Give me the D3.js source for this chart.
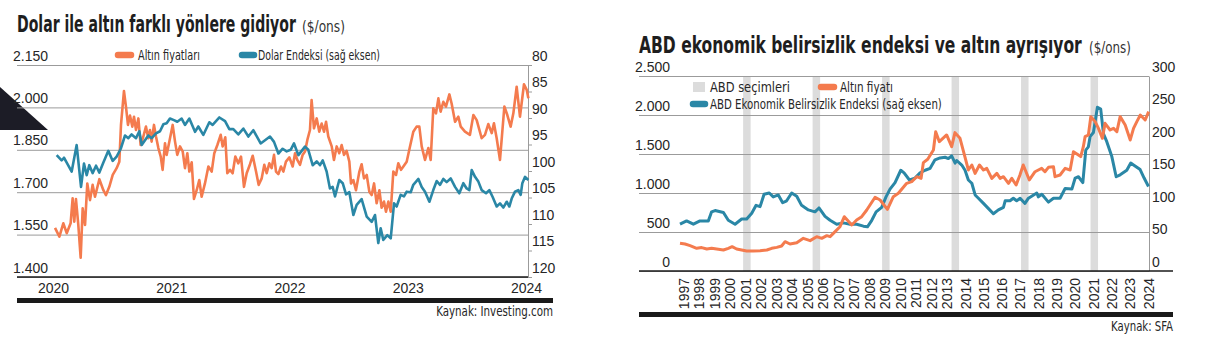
<!DOCTYPE html>
<html>
<head>
<meta charset="utf-8">
<script src="https://cdn.jsdelivr.net/npm/d3@7"></script>
<style>
  body { margin: 0; background: #fff; }
  svg { display: block; font-family: "Liberation Sans Narrow", "DejaVu Sans Condensed", "Liberation Sans", sans-serif; }
</style>
</head>
<body>
<svg id="chart" width="1207" height="347"></svg>
<script>
// ---------- Left panel: gold price vs. dollar index (weekly) ----------
const leftYears = [2020, 2021, 2022, 2023, 2024];
const goldTicks = [1400, 1550, 1700, 1850, 2000, 2150];
const dxyTicks = [80, 85, 90, 95, 100, 105, 110, 115, 120];

// [decimal year, $/oz]
const goldWeekly = [
  [2020.017,1574],[2020.054,1543],[2020.087,1590],[2020.116,1555],[2020.149,1590],[2020.166,1678],[2020.180,1596],[2020.194,1676],
  [2020.214,1584],[2020.234,1468],[2020.251,1643],[2020.271,1584],[2020.290,1731],[2020.313,1672],[2020.335,1726],[2020.355,1684],
  [2020.392,1746],[2020.426,1707],[2020.448,1690],[2020.476,1719],[2020.505,1761],[2020.538,1785],[2020.561,1808],[2020.575,1938],
  [2020.600,2058],[2020.617,2003],[2020.634,1938],[2020.651,1971],[2020.671,1932],[2020.685,1967],[2020.702,1920],[2020.722,1961],
  [2020.741,1867],[2020.764,1897],[2020.786,1932],[2020.806,1891],[2020.820,1920],[2020.834,1879],[2020.854,1938],[2020.871,1897],
  [2020.891,1856],[2020.911,1826],[2020.927,1779],[2020.947,1873],[2020.961,1832],[2020.984,1879],
  [2021.012,1938],[2021.032,1879],[2021.051,1832],[2021.074,1862],[2021.097,1844],[2021.116,1785],[2021.136,1838],[2021.153,1773],
  [2021.173,1806],[2021.192,1676],[2021.215,1707],[2021.237,1743],[2021.257,1684],[2021.285,1731],[2021.314,1791],[2021.342,1773],
  [2021.364,1838],[2021.390,1867],[2021.418,1903],[2021.435,1862],[2021.457,1894],[2021.474,1767],[2021.497,1779],[2021.519,1767],
  [2021.542,1826],[2021.567,1802],[2021.590,1826],[2021.615,1719],[2021.638,1767],[2021.666,1799],[2021.689,1829],[2021.717,1773],
  [2021.739,1726],[2021.765,1749],[2021.787,1797],[2021.807,1767],[2021.829,1802],[2021.849,1785],[2021.869,1832],[2021.886,1773],
  [2021.906,1764],[2021.928,1791],[2021.948,1773],[2021.970,1808],[2021.999,1823],
  [2022.027,1791],[2022.047,1838],[2022.066,1814],[2022.089,1797],[2022.111,1832],[2022.131,1844],[2022.151,1885],[2022.173,1920],
  [2022.187,2026],[2022.207,1926],[2022.230,1961],[2022.252,1914],[2022.272,1943],[2022.292,1914],[2022.309,1949],[2022.328,1897],
  [2022.357,1862],[2022.376,1814],[2022.399,1862],[2022.421,1838],[2022.441,1867],[2022.461,1832],[2022.483,1846],[2022.506,1808],
  [2022.520,1731],[2022.540,1743],[2022.562,1707],[2022.591,1773],[2022.610,1799],[2022.630,1749],[2022.653,1761],[2022.675,1702],
  [2022.695,1690],[2022.715,1731],[2022.737,1661],[2022.760,1707],[2022.779,1645],[2022.799,1667],[2022.816,1631],[2022.836,1667],
  [2022.856,1631],[2022.878,1773],[2022.901,1761],[2022.920,1802],[2022.943,1779],[2022.963,1791],[2022.991,1808],
  [2023.019,1862],[2023.047,1914],[2023.075,1932],[2023.098,1932],[2023.118,1862],[2023.146,1814],[2023.174,1856],[2023.194,1814],
  [2023.216,1997],[2023.239,1979],[2023.259,2032],[2023.278,1985],[2023.301,2020],[2023.323,2003],[2023.352,2046],[2023.371,2014],
  [2023.400,1949],[2023.428,1967],[2023.448,1932],[2023.484,1914],[2023.526,1903],[2023.555,1973],[2023.583,1955],[2023.625,1891],
  [2023.653,1903],[2023.681,1941],[2023.710,1909],[2023.729,1944],[2023.752,1891],[2023.780,1814],[2023.817,2003],[2023.842,1973],
  [2023.870,1932],[2023.893,1979],[2023.921,2073],[2023.949,1967],[2023.983,2082],[2024.006,2062],[2024.020,2032]
];

// [decimal year, index level]
const dxyWeekly = [
  [2020.031,97.0],[2020.073,98.0],[2020.093,97.5],[2020.116,98.4],[2020.158,100.1],[2020.200,95.1],[2020.237,103.0],[2020.262,98.6],
  [2020.285,100.8],[2020.307,98.9],[2020.335,100.4],[2020.364,99.0],[2020.392,100.3],[2020.426,98.4],[2020.468,96.2],[2020.505,98.1],
  [2020.538,97.3],[2020.573,95.8],[2020.609,93.3],[2020.637,93.8],[2020.665,93.1],[2020.702,93.8],[2020.730,92.5],[2020.750,95.1],
  [2020.778,94.2],[2020.806,93.3],[2020.834,93.8],[2020.871,92.9],[2020.905,92.5],[2020.933,91.2],[2020.961,91.0],[2020.989,90.1],
  [2021.023,90.4],[2021.051,90.7],[2021.088,90.1],[2021.116,91.3],[2021.153,90.1],[2021.201,92.6],[2021.229,91.6],[2021.271,93.2],
  [2021.322,90.8],[2021.350,91.3],[2021.407,89.9],[2021.455,90.6],[2021.491,92.1],[2021.525,92.1],[2021.567,93.1],[2021.610,92.0],
  [2021.652,93.5],[2021.694,92.3],[2021.756,94.8],[2021.793,94.2],[2021.835,93.5],[2021.869,94.5],[2021.906,96.7],[2021.942,95.8],
  [2021.976,96.3],[2022.010,96.0],[2022.038,94.8],
  [2022.075,97.0],[2022.131,95.4],[2022.159,96.0],[2022.196,98.9],[2022.230,98.2],[2022.258,98.9],[2022.281,98.0],[2022.314,100.1],
  [2022.342,103.3],[2022.365,103.0],[2022.385,104.8],[2022.421,101.7],[2022.450,102.3],[2022.478,104.4],[2022.506,104.0],[2022.540,108.3],
  [2022.568,106.4],[2022.610,105.3],[2022.653,108.6],[2022.695,109.6],[2022.723,108.3],[2022.751,113.6],[2022.771,110.8],[2022.793,113.0],
  [2022.827,112.1],[2022.856,112.7],[2022.884,106.1],[2022.906,106.7],[2022.940,104.5],[2022.968,104.8],[2022.991,103.9],[2023.025,104.0],
  [2023.047,102.6],[2023.090,101.5],[2023.118,103.0],[2023.146,103.9],[2023.183,105.8],[2023.216,103.6],[2023.245,101.9],[2023.273,102.6],
  [2023.301,101.5],[2023.329,102.1],[2023.363,101.4],[2023.400,103.0],[2023.436,104.2],[2023.470,102.3],[2023.498,103.3],[2023.521,103.6],
  [2023.541,99.8],[2023.569,101.1],[2023.597,102.0],[2023.625,103.6],[2023.662,104.2],[2023.690,103.6],[2023.718,104.9],[2023.752,106.7],
  [2023.780,106.1],[2023.808,106.9],[2023.837,105.8],[2023.859,106.7],[2023.879,105.2],[2023.907,103.9],[2023.935,103.6],[2023.955,104.5],
  [2023.969,102.3],[2023.992,101.1],[2024.020,101.7]
];

// ---------- Right panel: US economic policy uncertainty vs. gold ----------
const goldTicksR = [0, 500, 1000, 1500, 2000, 2500];
const epuTicks = [0, 50, 100, 150, 200, 250, 300];
const electionDates = [2000.85, 2004.85, 2008.85, 2012.85, 2016.85, 2020.85];
const yearLabels = ["1997","1998","1999","2000","2001","2002","2003","2004","2005","2006","2007","2007","2008","2009",
  "2010","2011","2012","2013","2014","2015","2016","2017","2018","2019","2020","2021","2022","2023","2024"];
const yearLabelDates = [1997.19,1998.08,1998.97,1999.87,2000.76,2001.65,2002.54,2003.44,2004.33,2005.22,2006.11,2007.01,2007.90,2008.79,
  2009.68,2010.58,2011.47,2012.36,2013.41,2014.47,2015.52,2016.57,2017.63,2018.68,2019.73,2020.79,2021.84,2022.90,2023.95];

// [decimal year, $/oz]
const goldLong = [
  [1997.00,355],[1997.29,346],[1997.58,325],[1997.96,291],[1998.25,300],[1998.54,282],[1998.82,291],[1999.11,282],[1999.50,269],
  [1999.78,291],[2000.00,312],[2000.26,282],[2000.55,269],[2000.84,256],[2001.22,256],[2001.61,261],[2002.00,269],[2002.28,291],
  [2002.57,303],[2002.85,320],[2003.05,376],[2003.33,346],[2003.72,363],[2004.10,419],[2004.49,389],[2004.87,440],[2005.16,419],
  [2005.45,453],[2005.64,440],[2005.93,504],[2006.21,568],[2006.46,696],[2006.89,590],[2007.17,654],[2007.46,696],[2007.75,782],
  [2008.23,945],[2008.52,910],[2008.94,791],[2009.28,953],[2009.57,996],[2010.05,1124],[2010.34,1145],[2010.63,1209],[2010.88,1188],
  [2011.01,1389],[2011.26,1432],[2011.59,1551],[2011.72,1786],[2011.93,1658],[2012.35,1744],[2012.64,1594],[2012.83,1774],[2013.12,1701],
  [2013.35,1509],[2013.60,1295],[2013.80,1359],[2013.99,1252],[2014.24,1359],[2014.47,1295],[2014.66,1316],[2014.95,1188],[2015.24,1252],
  [2015.43,1188],[2015.62,1209],[2015.91,1124],[2016.10,1188],[2016.35,1102],[2016.57,1231],[2016.76,1359],[2017.11,1167],[2017.44,1273],
  [2017.63,1295],[2017.82,1316],[2018.01,1273],[2018.21,1329],[2018.50,1337],[2018.59,1209],[2018.88,1231],[2019.17,1316],[2019.46,1295],
  [2019.65,1530],[2019.94,1487],[2020.07,1466],[2020.22,1594],[2020.32,1722],[2020.51,1744],[2020.65,1979],[2020.90,1915],[2021.09,1829],
  [2021.32,1701],[2021.47,1893],[2021.76,1808],[2021.96,1829],[2022.15,1786],[2022.34,1979],[2022.63,1872],[2022.92,1680],[2023.11,1829],
  [2023.30,1915],[2023.50,2000],[2023.78,1936],[2023.98,2043]
];

// [decimal year, index level]
const epuLong = [
  [1997.00,72],[1997.38,77],[1997.77,72],[1998.15,77],[1998.63,77],[1998.82,91],[1999.02,93],[1999.50,90],[1999.78,78],[2000.17,72],
  [2000.55,80],[2000.84,80],[2001.13,89],[2001.38,101],[2001.61,99],[2001.84,118],[2002.14,120],[2002.37,114],[2002.66,117],[2002.91,105],
  [2003.14,108],[2003.43,120],[2003.72,115],[2004.00,101],[2004.39,94],[2004.77,91],[2005.00,97],[2005.35,84],[2005.64,78],[2006.02,72],
  [2006.40,74],[2006.79,72],[2007.17,72],[2007.56,69],[2007.79,68],[2008.04,78],[2008.29,91],[2008.61,98],[2008.86,114],[2009.09,126],
  [2009.38,136],[2009.71,155],[2009.90,151],[2010.21,140],[2010.53,143],[2010.82,151],[2011.11,155],[2011.40,158],[2011.68,171],[2011.97,174],
  [2012.26,175],[2012.45,173],[2012.64,177],[2012.84,166],[2012.93,170],[2013.22,163],[2013.41,155],[2013.60,140],[2013.80,135],[2013.99,117],
  [2014.18,112],[2014.47,104],[2014.76,96],[2015.04,88],[2015.33,94],[2015.62,98],[2015.72,108],[2016.00,108],[2016.19,112],[2016.38,108],
  [2016.58,112],[2016.86,104],[2017.06,112],[2017.54,120],[2017.63,114],[2017.83,118],[2018.21,106],[2018.50,112],[2018.88,112],[2019.17,127],
  [2019.56,126],[2019.75,143],[2019.94,145],[2020.19,136],[2020.36,186],[2020.51,191],[2020.61,207],[2020.80,213],[2021.03,252],[2021.22,249],
  [2021.38,211],[2021.57,199],[2021.86,176],[2022.11,145],[2022.34,148],[2022.72,155],[2022.95,166],[2023.11,163],[2023.49,156],[2023.72,143],
  [2023.97,130]
];

// ---------- styling ----------
const INK = "#262626";
const GRID = "#9b9b9b";
const ORANGE = "#f47b4e";
const BLUE = "#2a87a6";
const BAND = "#dcdcdc";
const num = d3.formatLocale({ decimal: ",", thousands: ".", grouping: [3], currency: ["", ""] }).format(",");

const svg = d3.select("#chart");

// Places a text and squeezes it horizontally to the given width.
function fitText(g, x, y, str, opts) {
  const t = g.append("text").text(str)
    .attr("fill", opts.fill || INK)
    .attr("font-size", opts.size)
    .attr("font-weight", opts.weight || 400)
    .attr("text-anchor", opts.anchor || "start");
  let sx = 1;
  if (opts.width) {
    const natural = t.node().getComputedTextLength();
    if (natural > 0) sx = opts.width / natural;
  }
  t.attr("transform", `translate(${x},${y}) scale(${sx.toFixed(4)},1)`);
  return t;
}

// ================= LEFT PANEL =================
const L = { left: 17, right: 528, top: 65, bottom: 277, ruleEnd: 553 };
const xL = d3.scaleLinear().domain([2020, 2024]).range([53, 526]);
const yGold = d3.scaleLinear().domain([1400, 2150]).range([L.bottom, L.top]);
const yDxy = d3.scaleLinear().domain([80, 120]).range([L.top, L.bottom]);

const left = svg.append("g");

// corner wedge
left.append("path").attr("d", "M0,87 L48,130 L0,130 Z").attr("fill", "#1c1c26");

fitText(left, 17, 32, "Dolar ile altın farklı yönlere gidiyor", { size: 23, weight: 700, width: 279, fill: "#1e1e1e" });
fitText(left, 302, 32, "($/ons)", { size: 15, width: 43, fill: "#333" });

// gold axis + horizontal grid
left.append("g").attr("transform", `translate(${L.right},0)`)
  .call(d3.axisLeft(yGold).tickValues(goldTicks).tickSize(L.right - L.left).tickFormat(num))
  .call(g => {
    g.select(".domain").remove();
    g.selectAll(".tick line").attr("stroke", GRID).attr("stroke-width", 1);
    g.selectAll(".tick text").attr("x", -(L.right - 48)).attr("y", -5).attr("dy", null)
      .attr("text-anchor", "end").attr("fill", INK).attr("font-size", 14).attr("font-family", null);
  });

// dollar index axis (right, inverted)
left.append("g").attr("transform", `translate(${L.right},0)`)
  .call(d3.axisRight(yDxy).tickValues(dxyTicks).tickSize(4).tickSizeOuter(0))
  .call(g => {
    g.select(".domain").attr("stroke", GRID);
    g.selectAll(".tick line").attr("stroke", GRID);
    g.selectAll(".tick text").attr("x", 4).attr("y", -5).attr("dy", null)
      .attr("fill", INK).attr("font-size", 14).attr("font-family", null);
  });

// year axis
left.append("g").attr("transform", `translate(0,${L.bottom})`)
  .call(d3.axisBottom(xL).tickValues(leftYears).tickFormat(d3.format("d")).tickSize(0).tickPadding(6))
  .call(g => {
    g.select(".domain").remove();
    g.selectAll(".tick text").attr("fill", INK).attr("font-size", 14).attr("font-family", null);
  });

left.append("line").attr("x1", L.left).attr("x2", L.right).attr("y1", L.bottom).attr("y2", L.bottom)
  .attr("stroke", "#1a1a1a").attr("stroke-width", 1.5);

const lineGold = d3.line().x(d => xL(d[0])).y(d => yGold(d[1]));
const lineDxy = d3.line().x(d => xL(d[0])).y(d => yDxy(d[1]));

left.append("path").datum(goldWeekly).attr("d", lineGold)
  .attr("fill", "none").attr("stroke", ORANGE).attr("stroke-width", 2.6).attr("stroke-linejoin", "round");
left.append("path").datum(dxyWeekly).attr("d", lineDxy)
  .attr("fill", "none").attr("stroke", BLUE).attr("stroke-width", 2.6).attr("stroke-linejoin", "round");

// legend
const legL = left.append("g");
legL.append("line").attr("x1", 118).attr("x2", 131).attr("y1", 55).attr("y2", 55)
  .attr("stroke", ORANGE).attr("stroke-width", 6.5).attr("stroke-linecap", "round");
fitText(legL, 138, 60, "Altın fiyatları", { size: 14, width: 62 });
legL.append("line").attr("x1", 242).attr("x2", 254).attr("y1", 55).attr("y2", 55)
  .attr("stroke", BLUE).attr("stroke-width", 6.5).attr("stroke-linecap", "round");
fitText(legL, 258, 60, "Dolar Endeksi (sağ eksen)", { size: 14, width: 122 });

left.append("rect").attr("x", L.left).attr("y", 298).attr("width", L.ruleEnd - L.left).attr("height", 5).attr("fill", "#1a1a1a");
fitText(left, L.ruleEnd, 316, "Kaynak: Investing.com", { size: 14, width: 117, anchor: "end" });

// ================= RIGHT PANEL =================
const R = { left: 639, right: 1149, top: 76, bottom: 271, ruleEnd: 1173 };
const xR = d3.scaleLinear().domain([1997, 2024]).range([680, 1149]);
const yGoldR = d3.scaleLinear().domain([0, 2500]).range([R.bottom, R.top]);
const yEpu = d3.scaleLinear().domain([0, 300]).range([R.bottom, R.top]);
const bandWidth = 7.5;

const right = svg.append("g");

fitText(right, 639, 53, "ABD ekonomik belirsizlik endeksi ve altın ayrışıyor", { size: 23, weight: 700, width: 443, fill: "#1e1e1e" });
fitText(right, 1089, 53, "($/ons)", { size: 15, width: 42, fill: "#333" });

// election bands
right.append("g").selectAll("rect").data(electionDates).join("rect")
  .attr("x", d => xR(d) - bandWidth / 2).attr("width", bandWidth)
  .attr("y", R.top).attr("height", R.bottom - R.top).attr("fill", BAND);

// gold axis + grid
right.append("g").attr("transform", `translate(${R.right},0)`)
  .call(d3.axisLeft(yGoldR).tickValues(goldTicksR).tickSize(R.right - R.left).tickFormat(num))
  .call(g => {
    g.select(".domain").remove();
    g.selectAll(".tick line").attr("stroke", GRID).attr("stroke-width", 1);
    g.selectAll(".tick text").attr("x", -(R.right - 670)).attr("y", -5).attr("dy", null)
      .attr("text-anchor", "end").attr("fill", INK).attr("font-size", 14).attr("font-family", null);
  });

// uncertainty index axis
right.append("g").attr("transform", `translate(${R.right},0)`)
  .call(d3.axisRight(yEpu).tickValues(epuTicks).tickSize(0).tickSizeOuter(0))
  .call(g => {
    g.select(".domain").attr("stroke", GRID);
    g.selectAll(".tick text").attr("x", 3).attr("y", -5).attr("dy", null)
      .attr("fill", INK).attr("font-size", 14).attr("font-family", null);
  });

// year axis with rotated labels
right.append("g").attr("transform", `translate(0,${R.bottom})`)
  .call(d3.axisBottom(xR).tickValues(yearLabelDates).tickFormat((d, i) => yearLabels[i]).tickSize(0))
  .call(g => {
    g.select(".domain").remove();
    g.selectAll(".tick text").attr("transform", "rotate(-90)").attr("text-anchor", "end")
      .attr("x", -7).attr("y", 0).attr("dy", "0.36em")
      .attr("fill", INK).attr("font-size", 14).attr("font-family", null);
  });

right.append("line").attr("x1", R.left).attr("x2", R.ruleEnd).attr("y1", R.bottom).attr("y2", R.bottom)
  .attr("stroke", "#1a1a1a").attr("stroke-width", 1.5);

const lineGoldR = d3.line().x(d => xR(d[0])).y(d => yGoldR(d[1]));
const lineEpu = d3.line().x(d => xR(d[0])).y(d => yEpu(d[1]));

right.append("path").datum(epuLong).attr("d", lineEpu)
  .attr("fill", "none").attr("stroke", BLUE).attr("stroke-width", 3).attr("stroke-linejoin", "round");
right.append("path").datum(goldLong).attr("d", lineGoldR)
  .attr("fill", "none").attr("stroke", ORANGE).attr("stroke-width", 3).attr("stroke-linejoin", "round");

// legend
const legR = right.append("g");
legR.append("rect").attr("x", 693).attr("y", 82).attr("width", 12).attr("height", 10).attr("fill", BAND);
fitText(legR, 710, 92, "ABD seçimleri", { size: 14, width: 80 });
legR.append("line").attr("x1", 821).attr("x2", 834).attr("y1", 87).attr("y2", 87)
  .attr("stroke", ORANGE).attr("stroke-width", 6.5).attr("stroke-linecap", "round");
fitText(legR, 840, 92, "Altın fiyatı", { size: 14, width: 53 });
legR.append("line").attr("x1", 693).attr("x2", 705).attr("y1", 104).attr("y2", 104)
  .attr("stroke", BLUE).attr("stroke-width", 6.5).attr("stroke-linecap", "round");
fitText(legR, 710, 109, "ABD Ekonomik Belirsizlik Endeksi (sağ eksen)", { size: 14, width: 232 });

right.append("rect").attr("x", R.left).attr("y", 312).attr("width", R.ruleEnd - R.left).attr("height", 5).attr("fill", "#1a1a1a");
fitText(right, R.ruleEnd, 331, "Kaynak: SFA", { size: 14, width: 62, anchor: "end" });
</script>
</body>
</html>
